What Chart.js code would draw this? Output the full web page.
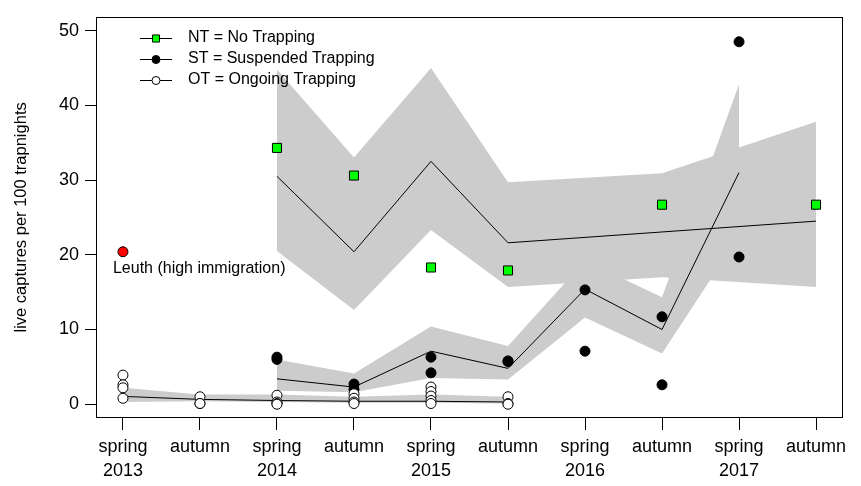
<!DOCTYPE html>
<html>
<head>
<meta charset="utf-8">
<script src="https://cdn.jsdelivr.net/npm/chart.js@4/dist/chart.umd.min.js"></script>
<style>
  html, body { margin: 0; padding: 0; background: #fff; }
</style>
</head>
<body>
<canvas id="chart" width="861" height="486"></canvas>
<script>
// seasons on the x axis
const seasons = ["spring 2013", "autumn 2013", "spring 2014", "autumn 2014", "spring 2015",
                 "autumn 2015", "spring 2016", "autumn 2016", "spring 2017", "autumn 2017"];
const tickTop = ["spring", "autumn", "spring", "autumn", "spring", "autumn", "spring", "autumn", "spring", "autumn"];
const tickBottom = ["2013", "", "2014", "", "2015", "", "2016", "", "2017", ""];
const yTicks = [0, 10, 20, 30, 40, 50];
const yTitle = "live captures per 100 trapnights";

// NT = No Trapping
const ntObs   = [null, null, 34.3, 30.6, 18.3, 17.9, null, 26.7, null, 26.7];
const ntFit   = [null, null, 30.5, 20.4, 32.5, 21.6, null, null, null, 24.5];
const ntUpper = [null, null, 44.8, 33.0, 45.0, 29.7, null, 30.9, null, 37.8];
const ntLower = [null, null, 20.5, 12.6, 23.3, 15.7, null, 17.0, null, 15.7];

// ST = Suspended Trapping
const stObs   = [[], [], [6.3, 6.0], [2.7, 2.0], [6.3, 4.2], [5.8, 5.7], [15.3, 7.1], [11.7, 2.6], [48.5, 19.7], []];
const stFit   = [null, null, 3.4, 2.3, 7.1, 4.8, 15.4, 10.0, 31.0, null];
const stUpper = [null, null, 6.0, 4.1, 10.4, 7.8, 19.2, 14.3, 42.8, null];
const stLower = [null, null, 1.8, 1.6, 3.5, 3.3, 11.6, 6.8, 22.5, null];

// OT = Ongoing Trapping
const otObs   = [[3.9, 2.6, 2.2, 0.8], [1.0, 0.1, 0.1], [1.2, 0.3, 0.1, 0.0], [1.4, 0.8, 0.3, 0.1],
                 [2.3, 1.7, 1.1, 0.5, 0.1], [1.0, 0.1, 0.0], [], [], [], []];
const otFit   = [1.05, 0.65, 0.5, 0.4, 0.4, 0.3, null, null, null, null];
const otUpper = [2.2, 1.3, 1.3, 1.0, 1.3, 1.0, null, null, null, null];
const otLower = [0.3, 0.4, 0.3, 0.2, 0.2, 0.1, null, null, null, null];

// Leuth site
const leuthObs = [20.4, null, null, null, null, null, null, null, null, null];
const leuthLabel = "Leuth (high immigration)";

const legendLabels = ["NT = No Trapping", "ST = Suspended Trapping", "OT = Ongoing Trapping"];

const GRAY = "#cccccc";
const FONT = "'Liberation Sans', Arial, sans-serif";

function pts(arr) {
  return arr.map((v, i) => (v == null ? null : { x: i, y: v })).filter(Boolean);
}
function ptsMulti(arr) {
  return arr.flatMap((vals, i) => vals.map((v) => ({ x: i, y: v })));
}

function band(upper, lower) {
  return [
    { data: pts(upper), fill: "+1", backgroundColor: GRAY, borderColor: "transparent",
      borderWidth: 0, pointRadius: 0, order: 10 },
    { data: pts(lower), fill: false, borderColor: "transparent", borderWidth: 0,
      pointRadius: 0, order: 10 }
  ];
}
function fitLine(vals) {
  return { data: pts(vals), borderColor: "#000", borderWidth: 1, pointRadius: 0,
           fill: false, tension: 0, order: 5 };
}

const ntMarker = { pointStyle: "rect", fill: "#00ff00" };
const stMarker = { pointStyle: "circle", fill: "#000000" };
const otMarker = { pointStyle: "circle", fill: "#ffffff" };

function obs(data, marker, radius, order) {
  return { data, showLine: false, pointStyle: marker.pointStyle, pointRadius: radius,
           pointBackgroundColor: marker.fill, pointBorderColor: "#000",
           pointBorderWidth: 1, order };
}

const datasets = [
  ...band(ntUpper, ntLower),
  ...band(stUpper, stLower),
  ...band(otUpper, otLower),
  fitLine(ntFit),
  fitLine(stFit),
  fitLine(otFit),
  obs(pts(ntObs), ntMarker, 6.4, 3),
  obs(ptsMulti(stObs), stMarker, 5, 2),
  obs(ptsMulti(otObs), otMarker, 5, 1),
  obs(pts(leuthObs), { pointStyle: "circle", fill: "#ff0000" }, 5, 0)
];
const leuthIndex = datasets.length - 1;

const framePlugin = {
  id: "frame",
  afterDatasetsDraw(chart) {
    const { ctx, chartArea: a } = chart;
    ctx.save();
    ctx.strokeStyle = "#000";
    ctx.lineWidth = 1;
    ctx.strokeRect(Math.round(a.left) + 0.5, Math.round(a.top) + 0.5,
                   Math.round(a.right - a.left) - 1, Math.round(a.bottom - a.top) - 1);

    // label next to the Leuth point
    const p = chart.getDatasetMeta(leuthIndex).data[0];
    ctx.fillStyle = "#000";
    ctx.font = "16px " + FONT;
    ctx.textAlign = "left";
    ctx.textBaseline = "middle";
    ctx.fillText(leuthLabel, p.x - 10, p.y + 17);
    ctx.restore();
  }
};

const legendPlugin = {
  id: "rLegend",
  afterDraw(chart) {
    const ctx = chart.ctx;
    const markers = [ntMarker, stMarker, otMarker];
    const radii = [5, 4, 4];
    ctx.save();
    ctx.font = "16px " + FONT;
    ctx.textBaseline = "middle";
    ctx.textAlign = "left";
    legendLabels.forEach((label, i) => {
      const y = 38 + i * 21;
      ctx.strokeStyle = "#000";
      ctx.lineWidth = 1;
      ctx.beginPath();
      ctx.moveTo(140, y + 0.5);
      ctx.lineTo(172, y + 0.5);
      ctx.stroke();
      ctx.fillStyle = markers[i].fill;
      Chart.helpers.drawPoint(ctx, { pointStyle: markers[i].pointStyle, radius: radii[i],
                                     borderWidth: 1, rotation: 0 }, 156, y + 0.5);
      ctx.fillStyle = "#000";
      ctx.fillText(label, 188, y);
    });
    ctx.restore();
  }
};

Chart.defaults.font.family = FONT;
Chart.defaults.color = "#000";

new Chart(document.getElementById("chart"), {
  type: "line",
  data: { datasets },
  options: {
    responsive: false,
    animation: false,
    events: [],
    layout: { padding: { top: 10, right: 18, left: 0, bottom: 0 } },
    plugins: { legend: { display: false }, tooltip: { enabled: false } },
    scales: {
      x: {
        type: "linear",
        min: -0.35,
        max: 9.35,
        afterBuildTicks: (s) => { s.ticks = seasons.map((_, i) => ({ value: i })); },
        afterFit: (s) => { s.height = 68; },
        ticks: {
          autoSkip: false,
          maxRotation: 0,
          padding: 5,
          font: { size: 18, lineHeight: 1.333 },
          callback: (v) => (tickBottom[v] ? [tickTop[v], tickBottom[v]] : tickTop[v])
        },
        grid: { drawOnChartArea: false, drawTicks: true, tickLength: 12, color: "#000" },
        border: { display: false }
      },
      y: {
        min: -1.84,
        max: 51.84,
        afterBuildTicks: (s) => { s.ticks = yTicks.map((v) => ({ value: v })); },
        afterFit: (s) => { s.width = 96; },
        ticks: { padding: 6, font: { size: 18 } },
        grid: { drawOnChartArea: false, drawTicks: true, tickLength: 11, color: "#000" },
        border: { display: false },
        title: { display: true, text: yTitle, font: { size: 16.5 }, padding: { top: 12, bottom: 0 } }
      }
    }
  },
  plugins: [framePlugin, legendPlugin]
});
</script>
</body>
</html>
